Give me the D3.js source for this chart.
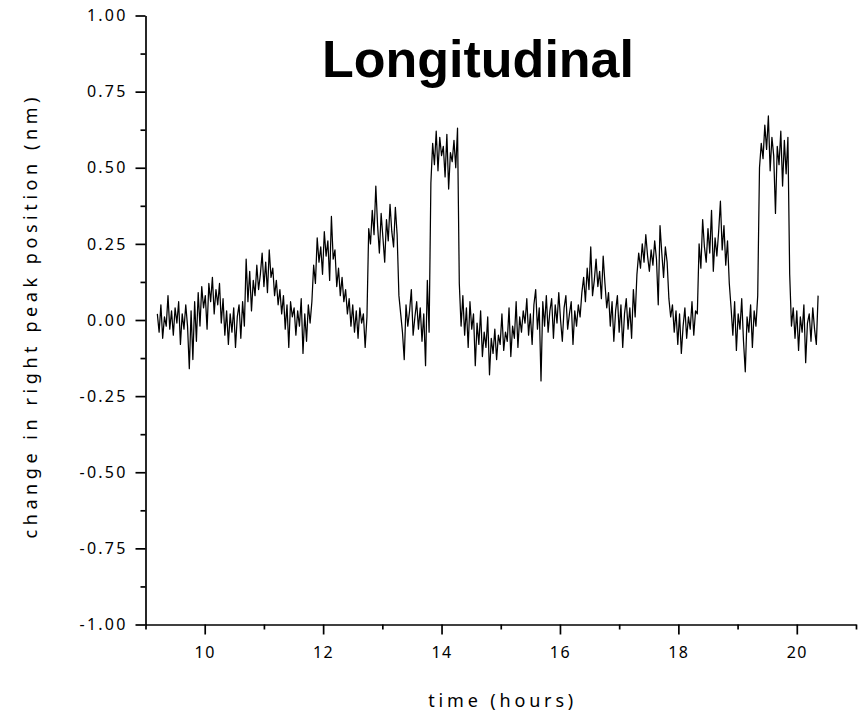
<!DOCTYPE html>
<html>
<head>
<meta charset="utf-8">
<script src="https://cdn.jsdelivr.net/npm/d3@7"></script>
<style>
  html, body { margin: 0; padding: 0; background: #fff; }
  svg { display: block; }
  .tick-label { font-family: "Noto Sans", "Open Sans", sans-serif; font-size: 16px; fill: #000; }
  .axis-title { font-family: "Noto Sans", "Open Sans", sans-serif; font-size: 18px; fill: #000; }
  .chart-title { font-family: "Liberation Sans", Arial, sans-serif; font-weight: bold; font-size: 52px; fill: #000; }
</style>
</head>
<body>
<svg id="chart" width="865" height="717"></svg>
<script>
// Sample times (hours)
const hours = [
  9.20,9.23,9.26,9.29,9.32,9.35,9.38,9.41,9.44,9.47,
  9.50,9.53,9.56,9.59,9.62,9.65,9.68,9.71,9.74,9.77,
  9.80,9.83,9.86,9.89,9.92,9.95,9.98,10.01,10.04,10.07,
  10.10,10.13,10.16,10.19,10.22,10.25,10.28,10.31,10.34,10.37,
  10.40,10.43,10.46,10.49,10.52,10.55,10.58,10.61,10.64,10.67,
  10.70,10.73,10.76,10.79,10.82,10.85,10.88,10.91,10.94,10.97,
  11.00,11.03,11.06,11.09,11.12,11.15,11.18,11.21,11.24,11.27,
  11.30,11.33,11.36,11.39,11.42,11.45,11.48,11.51,11.54,11.57,
  11.60,11.63,11.66,11.69,11.72,11.75,11.78,11.81,11.84,11.87,
  11.90,11.93,11.96,11.99,12.02,12.05,12.08,12.11,12.14,12.17,
  12.20,12.23,12.26,12.29,12.32,12.35,12.38,12.41,12.44,12.47,
  12.50,12.53,12.56,12.59,12.62,12.65,12.68,12.71,12.74,12.77,
  12.80,12.83,12.86,12.89,12.92,12.95,12.98,13.01,13.04,13.07,
  13.10,13.13,13.16,13.19,13.22,13.25,13.28,13.31,13.34,13.37,
  13.40,13.43,13.46,13.49,13.52,13.55,13.58,13.61,13.64,13.67,
  13.70,13.73,13.76,13.79,13.82,13.85,13.88,13.91,13.94,13.97,
  14.00,14.03,14.06,14.09,14.12,14.15,14.18,14.21,14.24,14.27,
  14.30,14.33,14.36,14.39,14.42,14.45,14.48,14.51,14.54,14.57,
  14.60,14.63,14.66,14.69,14.72,14.75,14.78,14.81,14.84,14.87,
  14.90,14.93,14.96,14.99,15.02,15.05,15.08,15.11,15.14,15.17,
  15.20,15.23,15.26,15.29,15.32,15.35,15.38,15.41,15.44,15.47,
  15.50,15.53,15.56,15.59,15.62,15.65,15.68,15.71,15.74,15.77,
  15.80,15.83,15.86,15.89,15.92,15.95,15.98,16.01,16.04,16.07,
  16.10,16.13,16.16,16.19,16.22,16.25,16.28,16.31,16.34,16.37,
  16.40,16.43,16.46,16.49,16.52,16.55,16.58,16.61,16.64,16.67,
  16.70,16.73,16.76,16.79,16.82,16.85,16.88,16.91,16.94,16.97,
  17.00,17.03,17.06,17.09,17.12,17.15,17.18,17.21,17.24,17.27,
  17.30,17.33,17.36,17.39,17.42,17.45,17.48,17.51,17.54,17.57,
  17.60,17.63,17.66,17.69,17.72,17.75,17.78,17.81,17.84,17.87,
  17.90,17.93,17.96,17.99,18.02,18.05,18.08,18.11,18.14,18.17,
  18.20,18.23,18.26,18.29,18.32,18.35,18.38,18.41,18.44,18.47,
  18.50,18.53,18.56,18.59,18.62,18.65,18.68,18.71,18.74,18.77,
  18.80,18.83,18.86,18.89,18.92,18.95,18.98,19.01,19.04,19.07,
  19.10,19.13,19.16,19.19,19.22,19.25,19.28,19.31,19.34,19.37,
  19.40,19.43,19.46,19.49,19.52,19.55,19.58,19.61,19.64,19.67,
  19.70,19.73,19.76,19.79,19.82,19.85,19.88,19.91,19.94,19.97,
  20.00,20.03,20.06,20.09,20.12,20.15,20.18,20.21,20.24,20.27,
  20.30,20.33,20.36
];

// Change in right peak position (nm)
const peakShift = [
  0.02,-0.04,0.05,-0.06,0.01,-0.02,0.08,-0.03,0.03,-0.05,
  0.04,-0.01,0.06,-0.08,0.02,-0.03,0.05,-0.02,-0.16,0.03,
  -0.13,0.06,-0.07,0.09,-0.02,0.11,0.04,0.08,-0.03,0.12,
  0.06,0.14,0.02,0.10,0.05,0.12,-0.01,0.07,-0.05,0.03,
  -0.08,0.02,-0.04,0.04,-0.09,0.01,0.05,-0.06,0.06,-0.02,
  0.20,0.06,0.16,0.03,0.13,0.08,0.18,0.10,0.15,0.22,
  0.11,0.19,0.09,0.23,0.14,0.17,0.08,0.13,0.05,0.10,
  0.02,0.08,-0.03,0.05,-0.09,0.06,0.01,0.04,-0.05,0.03,
  -0.02,0.07,-0.11,0.02,-0.07,0.05,-0.01,0.06,0.18,0.12,
  0.27,0.19,0.24,0.15,0.29,0.21,0.26,0.13,0.34,0.20,
  0.23,0.11,0.17,0.08,0.14,0.06,0.10,0.02,0.07,-0.02,
  0.05,-0.04,0.03,-0.06,0.04,-0.01,0.02,-0.09,0.01,0.30,
  0.25,0.36,0.28,0.44,0.31,0.22,0.35,0.27,0.19,0.33,
  0.26,0.38,0.29,0.24,0.37,0.28,0.08,0.02,-0.04,-0.13,
  0.05,-0.02,0.03,0.10,-0.05,0.01,0.06,-0.03,0.04,-0.07,
  0.02,-0.15,0.13,-0.04,0.45,0.58,0.51,0.62,0.49,0.60,
  0.54,0.57,0.47,0.61,0.43,0.55,0.52,0.59,0.50,0.63,
  0.12,-0.02,0.08,-0.05,0.04,-0.09,0.06,-0.03,0.02,-0.15,
  -0.01,-0.08,0.03,-0.12,-0.04,-0.09,0.01,-0.18,-0.06,-0.11,
  -0.03,-0.13,-0.05,-0.08,0.02,-0.10,-0.04,-0.07,0.04,-0.12,
  -0.02,-0.06,0.06,-0.09,0.01,-0.04,0.03,-0.01,0.07,-0.05,
  0.02,-0.08,0.05,0.10,-0.03,0.04,-0.20,0.06,-0.02,0.08,
  -0.04,0.03,0.07,-0.06,0.05,-0.01,0.09,0.00,-0.07,0.04,
  0.08,-0.03,0.02,0.06,-0.08,0.03,-0.02,0.05,0.01,0.09,
  0.14,0.06,0.17,0.10,0.24,0.08,0.13,0.20,0.11,0.16,
  0.07,0.21,0.12,0.04,0.09,-0.02,0.06,-0.07,0.03,0.08,
  -0.04,0.05,-0.09,0.02,0.07,-0.03,0.04,-0.06,0.10,0.01,
  0.15,0.22,0.17,0.25,0.19,0.28,0.21,0.16,0.23,0.18,
  0.26,0.20,0.05,0.31,0.22,0.14,0.24,0.19,0.07,0.01,
  0.05,-0.04,0.03,-0.08,0.02,-0.11,-0.02,0.04,-0.06,0.01,
  -0.03,0.06,-0.05,0.03,0.02,0.25,0.17,0.33,0.24,0.19,
  0.30,0.22,0.36,0.16,0.27,0.21,0.29,0.39,0.23,0.31,
  0.18,0.26,0.12,0.04,-0.05,0.06,-0.10,0.02,-0.03,0.07,
  -0.07,-0.17,0.01,-0.04,0.05,-0.09,0.03,-0.02,0.08,0.50,
  0.58,0.53,0.64,0.56,0.67,0.49,0.60,0.54,0.35,0.57,
  0.51,0.62,0.44,0.59,0.48,0.60,0.15,-0.02,0.04,-0.06,
  0.03,-0.10,0.01,-0.04,0.05,-0.14,-0.01,0.02,-0.07,0.04,
  -0.03,-0.08,0.08
];

// Axis ticks
const xMajorTicks = [10, 12, 14, 16, 18, 20];
const xMinorTicks = [9, 11, 13, 15, 17, 19, 21];
const yMajorTicks = [-1.0, -0.75, -0.5, -0.25, 0.0, 0.25, 0.5, 0.75, 1.0];
const yMinorTicks = [-0.875, -0.625, -0.375, -0.125, 0.125, 0.375, 0.625, 0.875];

const titleText = "Longitudinal";
const xTitle = "time (hours)";
const yTitle = "change in right peak position (nm)";

const margin = { left: 145.5, top: 15.5, right: 9, bottom: 92.5 };
const W = 865, H = 717;
const innerW = W - margin.left - margin.right;
const innerH = H - margin.top - margin.bottom;

const svg = d3.select("#chart");
const g = svg.append("g").attr("transform", `translate(${margin.left},${margin.top})`);

const x = d3.scaleLinear().domain([9, 21]).range([0, innerW]);
const y = d3.scaleLinear().domain([-1, 1]).range([innerH, 0]);

const series = hours.map((t, i) => ({ t, v: peakShift[i] }));

// Data trace
g.append("path")
  .datum(series)
  .attr("fill", "none")
  .attr("stroke", "#000")
  .attr("stroke-width", 1.25)
  .attr("stroke-linejoin", "round")
  .attr("d", d3.line().x(d => x(d.t)).y(d => y(d.v)));

// Helper to style an axis group
function styleAxis(sel) {
  sel.select(".domain").attr("stroke", "#000").attr("stroke-width", 1.7);
  sel.selectAll(".tick line").attr("stroke", "#000").attr("stroke-width", 1.7);
}

// Plain hyphen for negative tick labels
const fmt2 = d => d3.format(".2f")(d).replace("\u2212", "-");

// X axis: minor ticks then major ticks with labels
const xMinor = g.append("g").attr("transform", `translate(0,${innerH})`)
  .call(d3.axisBottom(x).tickValues(xMinorTicks).tickSize(5).tickSizeOuter(0).tickFormat(""));
styleAxis(xMinor);
const xMajor = g.append("g").attr("transform", `translate(0,${innerH})`)
  .call(d3.axisBottom(x).tickValues(xMajorTicks).tickSize(10).tickSizeOuter(0).tickPadding(12).tickFormat(d3.format("d")));
styleAxis(xMajor);
xMajor.select(".domain").remove();
xMajor.selectAll(".tick text")
  .attr("class", "tick-label")
  .attr("font-family", null).attr("font-size", null)
  .style("letter-spacing", "1.5px");

// Y axis: minor ticks then major ticks with labels
const yMinor = g.append("g")
  .call(d3.axisLeft(y).tickValues(yMinorTicks).tickSize(5).tickSizeOuter(0).tickFormat(""));
styleAxis(yMinor);
const yMajor = g.append("g")
  .call(d3.axisLeft(y).tickValues(yMajorTicks).tickSize(10).tickSizeOuter(0).tickPadding(8).tickFormat(fmt2));
styleAxis(yMajor);
yMajor.select(".domain").remove();
yMajor.selectAll(".tick text")
  .attr("class", "tick-label")
  .attr("font-family", null).attr("font-size", null)
  .style("letter-spacing", "2.2px");

// Titles
svg.append("text")
  .attr("class", "chart-title")
  .attr("x", 478).attr("y", 76.7)
  .attr("text-anchor", "middle")
  .text(titleText);

svg.append("text")
  .attr("class", "axis-title")
  .attr("x", margin.left + innerW / 2).attr("y", 707)
  .attr("text-anchor", "middle")
  .attr("textLength", 145).attr("lengthAdjust", "spacing")
  .text(xTitle);

svg.append("text")
  .attr("class", "axis-title")
  .attr("transform", `translate(37,${margin.top + innerH / 2 - 2}) rotate(-90)`)
  .attr("text-anchor", "middle")
  .attr("textLength", 441).attr("lengthAdjust", "spacing")
  .text(yTitle);
</script>
</body>
</html>
